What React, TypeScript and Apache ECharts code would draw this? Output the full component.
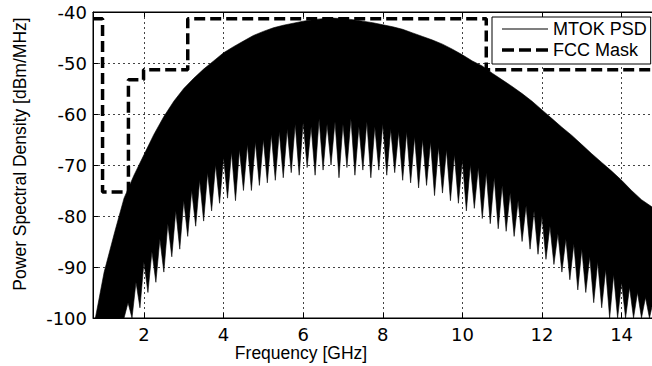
import React, { useEffect, useRef } from "react";
import * as echarts from "echarts";

// Upper envelope of the MTOK PSD (GHz, dBm/MHz)
const upperFreq = [
  0.78, 1.0, 1.27, 1.5, 1.75, 2.0, 2.25, 2.5, 2.75, 3.0, 3.25, 3.5, 3.75, 4.0,
  4.25, 4.5, 4.75, 5.0, 5.25, 5.5, 5.75, 6.0, 6.25, 6.5, 6.75, 7.0, 7.25, 7.5,
  7.75, 8.0, 8.25, 8.5, 8.75, 9.0, 9.25, 9.5, 9.75, 10.0, 10.25, 10.5, 10.75,
  11.0, 11.25, 11.5, 11.75, 12.0, 12.25, 12.5, 12.75, 13.0, 13.25, 13.5, 13.75,
  14.0, 14.25, 14.5, 14.76, 15.0,
];
const upperPsd = [
  -100, -91, -83, -76.5, -72, -68, -64, -60.5, -57.5, -55, -53, -51.2, -49.6,
  -48, -46.8, -45.7, -44.6, -43.8, -43.1, -42.6, -42.2, -41.8, -41.5, -41.3,
  -41.2, -41.3, -41.5, -41.8, -42.1, -42.5, -42.9, -43.4, -44.1, -44.8, -45.5,
  -46.3, -47.3, -48.4, -49.6, -50.6, -52, -53.3, -54.6, -56, -57.5, -59.2,
  -60.9, -62.6, -64.2, -66, -67.8, -69.5, -71.2, -73, -75, -76.8, -78.2, -79.5,
];

// Lower (jagged) edge of the PSD trace, sampled every 0.1 GHz from 0.8 GHz
const lowerStart = 0.8;
const lowerStep = 0.1;
const lowerPsd = [
  -100, -100, -100, -100, -100, -100, -100, -100, -97, -100,
  -93, -98, -89, -95, -87, -93, -84.5, -91, -81.5, -88,
  -79, -86.5, -77, -84, -75, -82, -73, -81, -71.5, -79,
  -70, -77.5, -68.5, -76.5, -67.5, -77, -67, -75, -66, -75,
  -65.5, -74, -65, -73.5, -64, -73, -63.5, -72.5, -63, -71.5,
  -62, -72, -61.5, -70.5, -62.5, -72, -61, -71, -62, -70,
  -61.5, -72.5, -62, -70.5, -61, -72, -62.5, -71, -61.5, -72.5,
  -62.5, -71, -62, -72, -63, -71.5, -63.5, -73, -63.5, -73.5,
  -64.5, -74.5, -65, -74, -65.5, -76, -66.5, -75.5, -67, -77,
  -68, -77.5, -69, -79, -70, -78.5, -70.5, -80.5, -71.5, -81.5,
  -72.5, -82.5, -74, -83, -75.5, -84, -77, -85, -78, -86.5,
  -79, -87.5, -80, -88.5, -82, -89.5, -83.5, -91, -84.5, -92.5,
  -85.5, -94.5, -86.5, -95, -88, -97, -89, -98, -90.5, -100,
  -91.5, -100, -93, -100, -94, -100, -95, -100, -96, -100,
  -96.5, -100, -97,
];

// FCC indoor UWB mask: level holds from each breakpoint to the next
const maskFreq = [0.72, 0.96, 1.61, 1.99, 3.1, 10.6, 15];
const maskLevel = [-41.3, -75.3, -53.3, -51.3, -41.3, -51.3, -51.3];

const seriesNames = ["MTOK PSD", "FCC Mask"];
const xTitle = "Frequency [GHz]";
const yTitle = "Power Spectral Density [dBm/MHz]";

export default function App() {
  const ref = useRef<HTMLDivElement>(null);

  useEffect(() => {
    if (!ref.current) return;
    const chart = echarts.init(ref.current, undefined, { renderer: "svg" });

    const maskData = maskFreq.map((f, i) => [f, maskLevel[i]]);
    const lowerFreq = lowerPsd.map((_, i) => +(lowerStart + i * lowerStep).toFixed(2));

    const tickFont = { fontFamily: "DejaVu Sans", fontSize: 18, color: "#000", lineHeight: 14 };
    const gridLine = { show: true, lineStyle: { color: "#444", type: [2, 3] as any, width: 1 } };

    chart.setOption({
      animation: false,
      backgroundColor: "#fff",
      grid: {
        left: 93,
        top: 12,
        width: 568.4,
        height: 306,
        show: true,
        borderColor: "#000",
        borderWidth: 1,
        backgroundColor: "transparent",
      },
      legend: {
        orient: "vertical",
        left: 492,
        top: 17,
        itemWidth: 46,
        itemHeight: 14,
        itemGap: 3,
        padding: [3, 4, 5, 10],
        backgroundColor: "#fff",
        borderColor: "#000",
        borderWidth: 1,
        borderRadius: 0,
        selectedMode: false,
        textStyle: { fontFamily: "Liberation Sans", fontSize: 18, color: "#000" },
        data: [
          { name: seriesNames[0], icon: "path://M0,0H46V1H0Z" },
          {
            name: seriesNames[1],
            icon: "path://M0,0H12V3.5H0Z M17,0H29V3.5H17Z M34,0H46V3.5H34Z",
          },
        ],
      },
      xAxis: [
        {
          type: "value",
          min: 0.72,
          max: 15,
          splitNumber: 7,
          minInterval: 2,
          maxInterval: 2,
          axisLine: { show: true, onZero: false, lineStyle: { color: "#000", width: 1 } },
          axisTick: { show: true, inside: true, length: 5, lineStyle: { color: "#000" } },
          axisLabel: { ...tickFont, margin: 9, showMinLabel: false, showMaxLabel: false },
          splitLine: gridLine,
        },
        {
          type: "value",
          position: "top",
          min: 0.72,
          max: 15,
          splitNumber: 7,
          minInterval: 2,
          maxInterval: 2,
          axisLine: { show: true, onZero: false, lineStyle: { color: "#000", width: 1 } },
          axisTick: { show: true, inside: true, length: 5, lineStyle: { color: "#000" } },
          axisLabel: { show: false },
          splitLine: { show: false },
        },
      ],
      yAxis: {
        type: "value",
        min: -100,
        max: -40,
        interval: 10,
        axisLine: { show: true, onZero: false, lineStyle: { color: "#000", width: 1 } },
        axisTick: { show: true, inside: true, length: 5, lineStyle: { color: "#000" } },
        axisLabel: { ...tickFont, margin: 6 },
        splitLine: gridLine,
      },
      graphic: [
        {
          type: "text",
          x: 301,
          y: 353,
          style: {
            text: xTitle,
            fontFamily: "Liberation Sans",
            fontSize: 17.5,
            lineHeight: 15,
            fill: "#000",
            align: "center",
            verticalAlign: "middle",
          },
        },
        {
          type: "text",
          x: 20,
          y: 154,
          rotation: Math.PI / 2,
          style: {
            text: yTitle,
            fontFamily: "Liberation Sans",
            fontSize: 17.5,
            fill: "#000",
            align: "center",
            verticalAlign: "middle",
          },
        },
      ],
      series: [
        {
          name: seriesNames[0],
          type: "custom",
          silent: true,
          itemStyle: { color: "#000" },
          data: [[upperFreq[0], upperPsd[0]]],
          renderItem: (params: any, api: any) => {
            if (params.dataIndex !== 0) return null;
            const pts: number[][] = [];
            for (let i = 0; i < upperFreq.length; i++) {
              pts.push(api.coord([upperFreq[i], upperPsd[i]]));
            }
            for (let i = lowerPsd.length - 1; i >= 0; i--) {
              pts.push(api.coord([lowerFreq[i], lowerPsd[i]]));
            }
            return {
              type: "polygon",
              shape: { points: pts },
              style: { fill: "#000", stroke: "#000", lineWidth: 0.6 },
            };
          },
          z: 2,
        },
        {
          name: seriesNames[1],
          type: "line",
          step: "end",
          symbol: "none",
          data: maskData,
          lineStyle: { color: "#000", width: 3.5, type: [11, 5] as any },
          itemStyle: { color: "#000" },
          z: 3,
        },
      ],
    });

    return () => chart.dispose();
  }, []);

  return (
    <div
      style={{
        position: "fixed",
        left: 0,
        top: 0,
        width: 652,
        height: 366,
        overflow: "hidden",
        background: "#fff",
      }}
    >
      <div ref={ref} style={{ width: 680, height: 366 }} />
    </div>
  );
}
